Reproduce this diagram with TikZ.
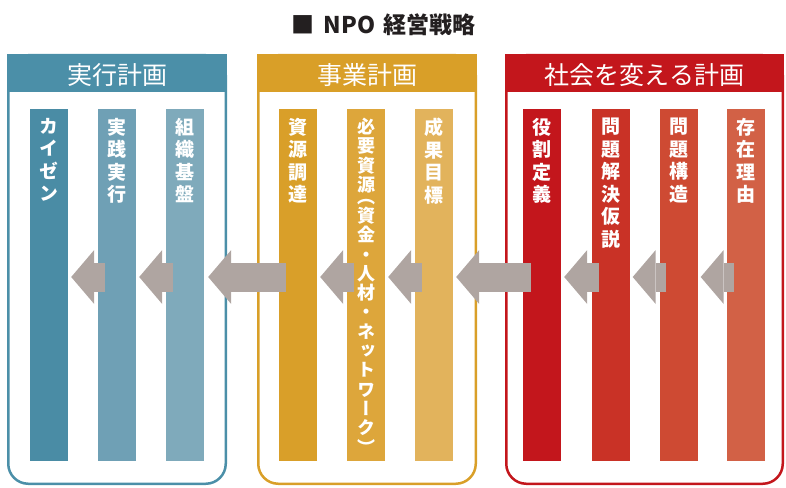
\documentclass[tikz,border=0pt]{standalone}
\usepackage{fontspec}
\setmainfont{Noto Sans CJK JP}
\newfontfamily\jpv[RawFeature={+vert}]{Noto Sans CJK JP}
\usetikzlibrary{arrows.meta,calc}
\definecolor{bluec}{HTML}{4B8FA8}
\definecolor{blueA}{HTML}{4A8CA5}
\definecolor{blueB}{HTML}{6FA0B5}
\definecolor{blueC}{HTML}{7FAABB}
\definecolor{orc}{HTML}{D99F28}
\definecolor{orA}{HTML}{D99F29}
\definecolor{orB}{HTML}{DDA63B}
\definecolor{orC}{HTML}{E2B35C}
\definecolor{redc}{HTML}{C3161C}
\definecolor{redA}{HTML}{C3161C}
\definecolor{redB}{HTML}{C93226}
\definecolor{redC}{HTML}{CE4A33}
\definecolor{redD}{HTML}{D26146}
\definecolor{arrowgray}{HTML}{AFA5A1}
\definecolor{titlegray}{HTML}{231F20}
\begin{document}
\begin{tikzpicture}[x=1pt,y=-1pt,
  panelline/.style={line width=2.5pt, rounded corners=20pt},
  bar/.style={minimum width=38pt, minimum height=352pt, inner sep=0pt, draw=none},
  bartext/.style={text=white, font=\jpv\bfseries\fontsize{19}{22.5}\selectfont, align=center, inner sep=0pt, anchor=north, label distance=-9pt},
  headtext/.style={text=white, font=\fontsize{25}{25}\selectfont, inner sep=0pt},
  grayarrow/.style={line width=29pt, draw=arrowgray, -{Triangle[length=23pt,width=54pt,line width'=0pt]}}
]
\useasboundingbox (0,0) rectangle (786,487);
% title
\node[font=\bfseries\fontsize{23}{23}\selectfont, text=titlegray, inner sep=0pt] (title) at (383.5,25) {■\hspace{9pt}NPO\hspace{8pt}経営戦略};
% panels
\draw[panelline, draw=bluec] (8.25,55.25) rectangle (225.75,483.75);
\fill[bluec] (7,54) rectangle (227,92);
\draw[panelline, draw=orc] (258.25,55.25) rectangle (475.75,483.75);
\fill[orc] (257,54) rectangle (477,92);
\draw[panelline, draw=redc] (506.25,55.25) rectangle (782.75,483.75);
\fill[redc] (505,54) rectangle (784,92);
\node[headtext] (h1) at (117,75) {実行計画};
\node[headtext] (h2) at (367,75) {事業計画};
\node[headtext] (h3) at (644.5,75) {社会を変える計画};
% bars
\node[bar, fill=blueA, label={[bartext]90:{カ\\イ\\ゼ\\ン}}] (b1) at (49,285) {};
\node[bar, fill=blueB, label={[bartext]90:{実\\践\\実\\行}}] (b2) at (117,285) {};
\node[bar, fill=blueC, label={[bartext]90:{組\\織\\基\\盤}}] (b3) at (185,285) {};
\node[bar, fill=orA, label={[bartext]90:{資\\源\\調\\達}}] (o1) at (298,285) {};
\node[bar, fill=orB, label={[bartext, font=\jpv\bfseries\fontsize{18}{19.3}\selectfont]90:{必\\要\\資\\源\\[-7.5pt]（\\資\\金\\・\\人\\材\\・\\ネ\\ッ\\ト\\ワ\\ー\\ク\\）}}] (o2) at (366,285) {};
\node[bar, fill=orC, label={[bartext]90:{成\\果\\目\\標}}] (o3) at (434,285) {};
\node[bar, fill=redA, label={[bartext]90:{役\\割\\定\\義}}] (r1) at (542,285) {};
\node[bar, fill=redB, label={[bartext]90:{問\\題\\解\\決\\仮\\説}}] (r2) at (610.5,285) {};
\node[bar, fill=redC, label={[bartext]90:{問\\題\\構\\造}}] (r3) at (678.5,285) {};
\node[bar, fill=redD, label={[bartext]90:{存\\在\\理\\由}}] (r4) at (746,285) {};
% arrows
\coordinate (ay) at (0,277);
\draw[grayarrow] ($(b2.west |- ay)+(7,0)$) -- ($(b1.east |- ay)+(3,0)$);
\draw[grayarrow] ($(b3.west |- ay)+(7,0)$) -- ($(b2.east |- ay)+(3,0)$);
\draw[grayarrow] ($(o1.west |- ay)+(7,0)$) -- ($(b3.east |- ay)+(4,0)$);
\draw[grayarrow] ($(o2.west |- ay)+(7,0)$) -- ($(o1.east |- ay)+(3,0)$);
\draw[grayarrow] ($(o3.west |- ay)+(7,0)$) -- ($(o2.east |- ay)+(3,0)$);
\draw[grayarrow] ($(r1.west |- ay)+(8,0)$) -- ($(o3.east |- ay)+(3,0)$);
\draw[grayarrow] ($(r2.west |- ay)+(7.5,0)$) -- ($(r1.east |- ay)+(3,0)$);
\draw[grayarrow] ($(r3.west |- ay)+(7,0)$) -- ($(r2.east |- ay)+(3,0)$);
\draw[grayarrow] ($(r4.west |- ay)+(7,0)$) -- ($(r3.east |- ay)+(3,0)$);
\end{tikzpicture}
\end{document}
